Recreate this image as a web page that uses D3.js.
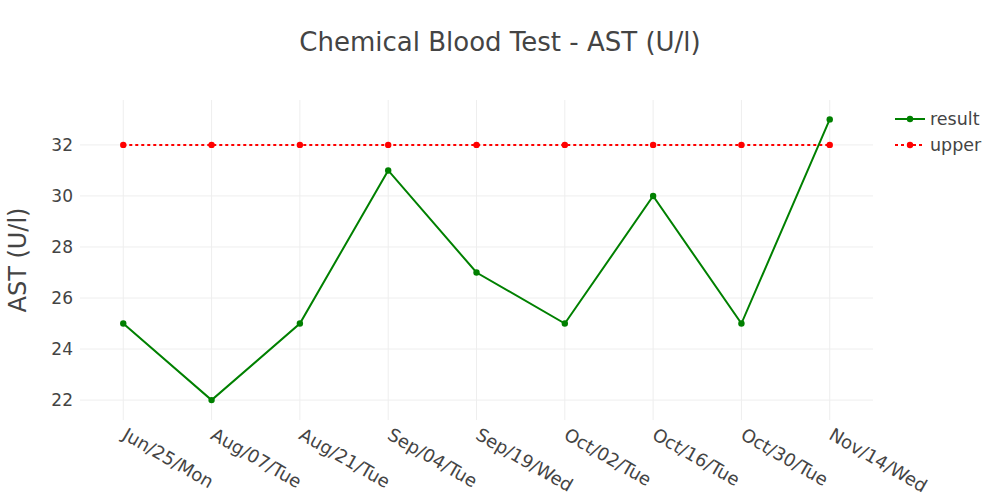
<!DOCTYPE html>
<html>
<head>
<meta charset="utf-8">
<script src="https://cdn.jsdelivr.net/npm/d3@7"></script>
<style>
  html, body { margin: 0; padding: 0; background: #fff; }
  text { font-family: "DejaVu Sans", Verdana, sans-serif; fill: #444; }
</style>
</head>
<body>
<svg id="chart" width="1000" height="500"></svg>
<script>
const categories = ["Jun/25/Mon", "Aug/07/Tue", "Aug/21/Tue", "Sep/04/Tue", "Sep/19/Wed", "Oct/02/Tue", "Oct/16/Tue", "Oct/30/Tue", "Nov/14/Wed"];
const resultValues = [25, 22, 25, 31, 27, 25, 30, 25, 33];
const upperValues = [32, 32, 32, 32, 32, 32, 32, 32, 32];
const yTicks = [22, 24, 26, 28, 30, 32];
const seriesNames = ["result", "upper"];
const titleText = "Chemical Blood Test - AST (U/l)";
const yTitle = "AST (U/l)";

const svg = d3.select("#chart");
const plot = { left: 80, right: 873, top: 100, bottom: 420 };

const x = d3.scaleLinear().domain([-0.49, categories.length - 1 + 0.49]).range([plot.left, plot.right]);
const y = d3.scaleLinear().domain([21.22, 33.76]).range([plot.bottom, plot.top]);

// grid
const g = svg.append("g");
g.selectAll(".vgrid").data(categories).enter().append("line")
  .attr("x1", (d, i) => x(i)).attr("x2", (d, i) => x(i))
  .attr("y1", plot.top).attr("y2", plot.bottom)
  .attr("stroke", "#eee").attr("stroke-width", 1);
g.selectAll(".hgrid").data(yTicks).enter().append("line")
  .attr("x1", plot.left).attr("x2", plot.right)
  .attr("y1", d => y(d)).attr("y2", d => y(d))
  .attr("stroke", "#eee").attr("stroke-width", 1);

// y tick labels
g.selectAll(".ytl").data(yTicks).enter().append("text")
  .attr("x", plot.left - 7).attr("y", d => y(d))
  .attr("dy", "0.36em").attr("text-anchor", "end")
  .style("font-size", "17px")
  .text(d => d);

// x tick labels
g.selectAll(".xtl").data(categories).enter().append("text")
  .attr("transform", (d, i) => `translate(${x(i) + 5},${plot.bottom + 6}) rotate(30)`)
  .attr("dy", "0.78em")
  .style("font-size", "18px")
  .text(d => d);

// title
svg.append("text").attr("x", 500).attr("y", 51).attr("text-anchor", "middle")
  .style("font-size", "26px").text(titleText);

// y axis title
svg.append("text").attr("transform", `translate(26,${(plot.top + plot.bottom) / 2}) rotate(-90)`)
  .attr("text-anchor", "middle").style("font-size", "24px").text(yTitle);

const line = d3.line().x((d, i) => x(i)).y(d => y(d));

// upper
svg.append("path").datum(upperValues).attr("d", line)
  .attr("fill", "none").attr("stroke", "red").attr("stroke-width", 2)
  .attr("stroke-dasharray", "3,3");
svg.selectAll(".up").data(upperValues).enter().append("circle")
  .attr("cx", (d, i) => x(i)).attr("cy", d => y(d)).attr("r", 3.2).attr("fill", "red");

// result
svg.append("path").datum(resultValues).attr("d", line)
  .attr("fill", "none").attr("stroke", "green").attr("stroke-width", 2);
svg.selectAll(".res").data(resultValues).enter().append("circle")
  .attr("cx", (d, i) => x(i)).attr("cy", d => y(d)).attr("r", 3.2).attr("fill", "green");

// legend
const legendItems = [
  { name: seriesNames[0], color: "green", dash: null, y: 119 },
  { name: seriesNames[1], color: "red", dash: "3,3", y: 145 }
];
const lg = svg.append("g");
legendItems.forEach(it => {
  lg.append("line").attr("x1", 895).attr("x2", 925).attr("y1", it.y).attr("y2", it.y)
    .attr("stroke", it.color).attr("stroke-width", 2)
    .attr("stroke-dasharray", it.dash);
  lg.append("circle").attr("cx", 910).attr("cy", it.y).attr("r", 3.2).attr("fill", it.color);
  lg.append("text").attr("x", 930).attr("y", it.y).attr("dy", "0.36em")
    .style("font-size", "17.5px").text(it.name);
});
</script>
</body>
</html>
